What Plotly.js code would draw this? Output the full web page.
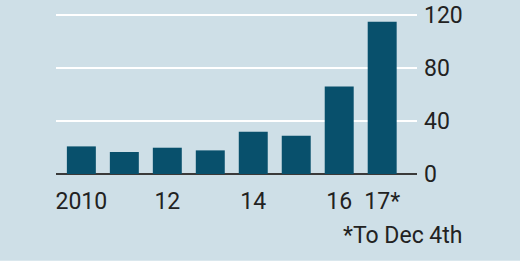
<!DOCTYPE html>
<html>
<head>
<meta charset="utf-8">
<script src="https://cdn.plot.ly/plotly-3.0.1.min.js"></script>
<style>html,body{margin:0;padding:0;background:#fff;}#chart{width:520px;height:272px;}</style>
</head>
<body>
<div id="chart"></div>
<script>
const years = [2010, 2011, 2012, 2013, 2014, 2015, 2016, 2017];
const values = [20.8, 16.6, 19.8, 17.8, 31.9, 28.9, 66, 114.7];
const xTickVals = [2010, 2012, 2014, 2016, 2017];
const xTickText = ["2010", "12", "14", "16", "17*"];
const yTickVals = [0, 40, 80, 120];
const yTickText = ["0", "40", "80", "120"];
const footnote = "*To Dec 4th";

const BG = "#cedfe7";
const FONT = {family: "Roboto, 'Open Sans', sans-serif", size: 23, color: "#222222"};

const data = [{
  type: "bar",
  x: years,
  y: values,
  marker: {color: "#08506c", line: {width: 0}},
  hoverinfo: "skip"
}];

const layout = {
  width: 520, height: 272,
  margin: {l: 56, r: 103, t: 2, b: 98, pad: 0},
  paper_bgcolor: BG,
  plot_bgcolor: BG,
  bargap: 0.326,
  showlegend: false,
  font: FONT,
  xaxis: {
    range: [2009.41, 2017.81],
    tickvals: xTickVals,
    ticktext: xTickText,
    showgrid: false,
    zeroline: false,
    showline: false,
    ticks: "",
    tickfont: FONT,
    ticklabelstandoff: 11,
    fixedrange: true
  },
  yaxis: {
    side: "right",
    range: [0, 129.6],
    tickvals: yTickVals,
    ticktext: yTickText,
    showgrid: true,
    gridcolor: "#ffffff",
    gridwidth: 2,
    zeroline: true,
    zerolinecolor: "#3a3a3a",
    zerolinewidth: 2,
    showline: false,
    ticks: "",
    tickfont: FONT,
    ticklabelstandoff: 6,
    fixedrange: true
  },
  annotations: [{
    text: footnote,
    xref: "paper", yref: "paper",
    x: 1.134, y: -0.355,
    xanchor: "right", yanchor: "middle",
    showarrow: false,
    font: FONT
  }],
  shapes: [{
    type: "rect", xref: "paper", yref: "paper",
    x0: -0.3, x1: 1.4, y0: -0.6, y1: -0.505,
    fillcolor: "#ffffff", line: {width: 0}, layer: "above"
  }]
};

Plotly.newPlot("chart", data, layout, {displayModeBar: false, staticPlot: true});
</script>
</body>
</html>
